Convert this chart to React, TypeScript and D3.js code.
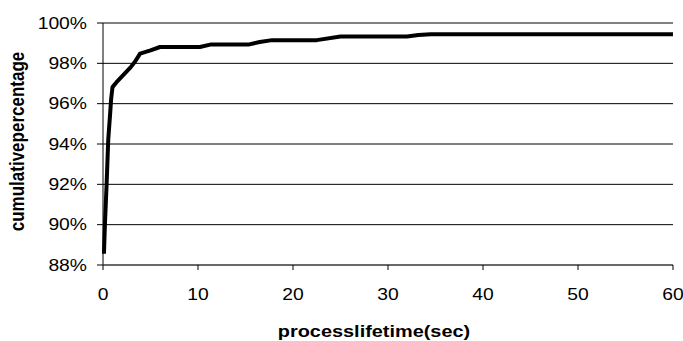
import React from "react";
import * as d3 from "d3";

// process lifetime in seconds, and cumulative percentage of processes
const lifetimes = [0.1, 0.2, 0.38, 0.55, 0.75, 0.85, 1.0, 1.4, 1.8, 2.4, 2.9, 3.4, 3.9, 5.0, 6.0, 10.2, 11.4, 15.4, 16.5, 17.8, 22.5, 25.0, 32.0, 33.2, 34.5, 60];
const cumulative = [88.56, 90.0, 92.0, 94.2, 95.5, 96.2, 96.82, 97.05, 97.25, 97.55, 97.8, 98.1, 98.48, 98.64, 98.81, 98.81, 98.94, 98.94, 99.06, 99.15, 99.15, 99.33, 99.33, 99.4, 99.44, 99.44];
const xTicks = [0, 10, 20, 30, 40, 50, 60];
const yTicks = [88, 90, 92, 94, 96, 98, 100];

export default function App() {
    const width = 683;
    const height = 341;
    const margin = { top: 23, bottom: 76, left: 103, right: 10 };

    const x = d3.scaleLinear().domain([0, 60]).range([margin.left, width - margin.right]);
    const y = d3.scaleLinear().domain([88, 100]).range([height - margin.bottom, margin.top]);

    const points = lifetimes.map((t, i) => [t, cumulative[i]] as [number, number]);
    const line = d3
        .line<[number, number]>()
        .x((d) => x(d[0]))
        .y((d) => y(d[1]));

    const font = "'Liberation Sans', Arial, sans-serif";
    // the source picture is a little wider than tall, so text gets stretched too
    const sx = 1.17;

    return (
        <svg
            width={width}
            height={height}
            style={{ position: "absolute", left: 0, top: 0, background: "#fff" }}
            fontFamily={font}
        >
            {/* horizontal gridlines */}
            {yTicks.map((v) => (
                <line key={"g" + v} x1={x(0)} x2={x(60)} y1={y(v)} y2={y(v)} stroke="#000" strokeWidth={1} />
            ))}
            {/* y axis */}
            <line x1={x(0)} x2={x(0)} y1={y(100)} y2={y(88)} stroke="#000" strokeWidth={1} />
            {yTicks.map((v) => (
                <g key={"y" + v}>
                    <line x1={x(0) - 6} x2={x(0)} y1={y(v)} y2={y(v)} stroke="#000" />
                    <text
                        transform={`translate(${x(0) - 16},${y(v)}) scale(${sx},1)`}
                        dy="0.35em"
                        textAnchor="end"
                        fontSize={16.5}
                    >
                        {v + "%"}
                    </text>
                </g>
            ))}
            {/* x axis */}
            <line x1={x(0)} x2={x(60)} y1={y(88)} y2={y(88)} stroke="#555" strokeWidth={1.2} />
            {xTicks.map((t) => (
                <g key={"x" + t}>
                    <line x1={x(t)} x2={x(t)} y1={y(88)} y2={y(88) + 5} stroke="#000" />
                    <text
                        transform={`translate(${x(t)},${y(88) + 35}) scale(${sx},1)`}
                        textAnchor="middle"
                        fontSize={16.5}
                    >
                        {t}
                    </text>
                </g>
            ))}
            <path
                d={line(points) || ""}
                fill="none"
                stroke="#000"
                strokeWidth={4}
                strokeLinejoin="round"
            />
            <text
                transform={`translate(374,336.5) scale(${sx},1)`}
                textAnchor="middle"
                fontSize={17}
                fontWeight="bold"
            >
                processlifetime(sec)
            </text>
            <text
                transform={`translate(24,141.5) rotate(-90) scale(1,${sx})`}
                textAnchor="middle"
                fontSize={17}
                fontWeight="bold"
            >
                cumulativepercentage
            </text>
        </svg>
    );
}
